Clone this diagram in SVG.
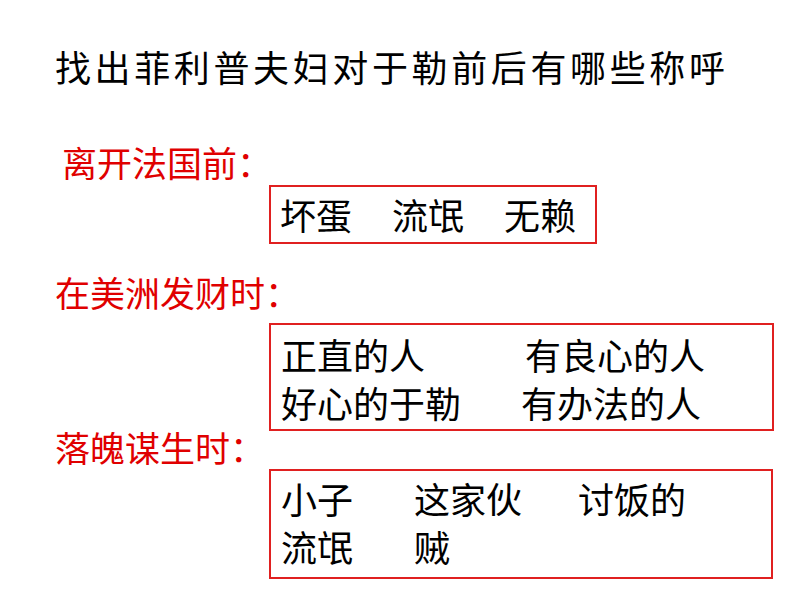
<svg xmlns="http://www.w3.org/2000/svg" width="794" height="596" viewBox="0 0 794 596">
<style>
text{font-family:"Noto Sans CJK SC",sans-serif;font-size:36px;fill:#000}
.r{fill:#e00000;font-size:35px}
.b{fill:none;stroke:#e02020;stroke-width:2}
</style>
<rect width="794" height="596" fill="#fff"/>
<text x="55" y="82" font-size="37" textLength="670">找出菲利普夫妇对于勒前后有哪些称呼</text>
<g id="before">
<text class="r" x="62" y="177">离开法国前：</text>
<rect class="b" x="270" y="186" width="326" height="57"/>
<text x="280" y="230">坏蛋</text><text x="392" y="230">流氓</text><text x="504" y="230">无赖</text>
</g>
<g id="rich">
<text class="r" x="55" y="307">在美洲发财时：</text>
<rect class="b" x="270" y="324" width="503" height="106"/>
<text x="281" y="370">正直的人</text><text x="525" y="370">有良心的人</text>
<text x="281" y="418">好心的于勒</text><text x="521" y="418">有办法的人</text>
</g>
<g id="poor">
<text class="r" x="55" y="462">落魄谋生时：</text>
<rect class="b" x="270" y="470" width="502" height="108"/>
<text x="281" y="514">小子</text><text x="414" y="514">这家伙</text><text x="578" y="514">讨饭的</text>
<text x="281" y="562">流氓</text><text x="414" y="562">贼</text>
</g>
</svg>
